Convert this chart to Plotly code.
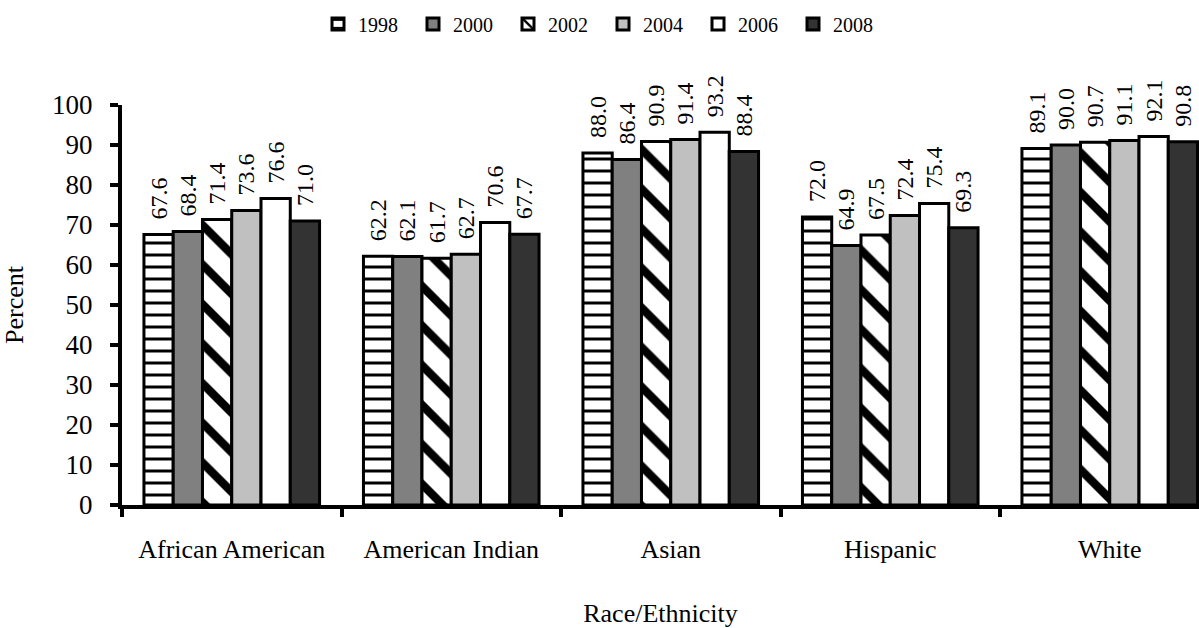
import plotly.graph_objects as go

categories = ["African American", "American Indian", "Asian", "Hispanic", "White"]
years = ["1998", "2000", "2002", "2004", "2006", "2008"]
v1998 = [67.6, 62.2, 88.0, 72.0, 89.1]
v2000 = [68.4, 62.1, 86.4, 64.9, 90.0]
v2002 = [71.4, 61.7, 90.9, 67.5, 90.7]
v2004 = [73.6, 62.7, 91.4, 72.4, 91.1]
v2006 = [76.6, 70.6, 93.2, 75.4, 92.1]
v2008 = [71.0, 67.7, 88.4, 69.3, 90.8]
series = [v1998, v2000, v2002, v2004, v2006, v2008]

colors = ["white", "#808080", "white", "#c0c0c0", "white", "#333333"]
patterns = [
    dict(shape="-", fgcolor="black", bgcolor="white", size=12, solidity=0.25, fgopacity=1),
    None,
    dict(shape="\\", fgcolor="black", bgcolor="white", size=28, solidity=0.3, fgopacity=1),
    None, None, None,
]

FONT = "Liberation Serif"
L, R, T, B = 122, 0, 105, 123
W = 1199
cat_px = 219.5
x_end = -0.5 + (W - L - R) / cat_px

fig = go.Figure()
for y, vals, c, p in zip(years, series, colors, patterns):
    marker = dict(color=c, line=dict(color="black", width=3))
    if p:
        marker["pattern"] = p
    fig.add_trace(go.Bar(
        name=y, x=categories, y=vals, marker=marker,
        texttemplate="\u00a0\u00a0%{y:.1f}", textposition="outside", textangle=-90,
        constraintext="none",
        textfont=dict(family=FONT, size=24, color="black"),
        cliponaxis=False,
    ))

fig.update_layout(
    width=1199, height=628,
    barmode="group", bargap=0.2, bargroupgap=0,
    plot_bgcolor="white", paper_bgcolor="white",
    margin=dict(l=L, r=R, t=T, b=B, autoexpand=False),
    font=dict(family=FONT, size=26, color="black"),
    legend=dict(orientation="h", x=318 / 1199, xanchor="left", y=0.993, yanchor="top",
                xref="container", yref="container",
                font=dict(family=FONT, size=20), itemwidth=30,
                entrywidth=50, entrywidthmode="pixels", traceorder="normal"),
    uniformtext=dict(mode=False),
)
fig.update_yaxes(range=[0, 100], dtick=10, showgrid=False, showline=True,
                 linecolor="black", linewidth=4, ticks="outside", ticklen=8,
                 tickwidth=4, tickcolor="black", zeroline=False,
                 ticklabelstandoff=12,
                 title=dict(text="Percent", font=dict(family=FONT, size=26), standoff=22),
                 tickfont=dict(family=FONT, size=27))
fig.update_xaxes(range=[-0.5, x_end], showgrid=False, showline=True, linecolor="black", linewidth=4,
                 ticks="outside", tickson="boundaries", ticklen=8, tickwidth=4,
                 tickcolor="black", ticklabelstandoff=18,
                 title=dict(text="Race/Ethnicity", font=dict(family=FONT, size=26), standoff=44),
                 tickfont=dict(family=FONT, size=26))

fig.write_html("out.html", config={"displayModeBar": False},
               post_script="document.body.style.margin='0px';")
